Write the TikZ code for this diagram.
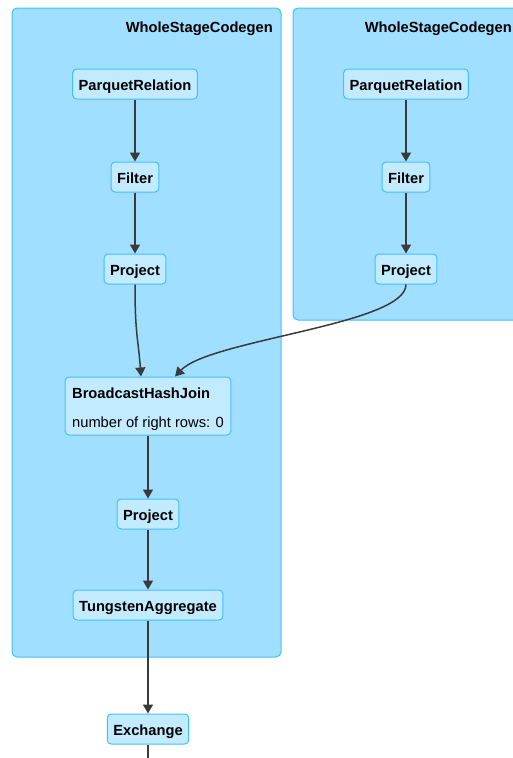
\documentclass[tikz,border=0pt]{standalone}
\usepackage{fontspec}
\setmainfont{Liberation Sans}
\usetikzlibrary{arrows.meta,calc}
\definecolor{clusterfill}{HTML}{A0DFFF}
\definecolor{clusterline}{HTML}{3EC0FF}
\definecolor{opfill}{HTML}{C3EBFF}
\definecolor{opline}{HTML}{3EC0FF}
\definecolor{edgecol}{HTML}{3A3A3A}
\begin{document}
\begin{tikzpicture}[x=1pt,y=-1pt,
  cluster/.style={draw=clusterline, fill=clusterfill, line width=1pt, rounded corners=5pt},
  cltitle/.style={anchor=base east, font=\fontsize{14.7}{17}\selectfont\bfseries, inner sep=0pt},
  op/.style={draw=opline, fill=opfill, line width=1pt, rounded corners=4pt,
    font=\fontsize{14.7}{17}\selectfont\bfseries, inner xsep=6pt, minimum height=30pt,
    text height=13pt, text depth=0.5pt},
  flowline/.style={draw=edgecol, line width=1.5pt},
  flow/.style={flowline, -{Triangle[length=9pt,width=10pt]}}
]
\useasboundingbox (0,0) rectangle (513,758);
\begin{scope}
\clip (0,0) rectangle (513,758);

% stage clusters
\draw[cluster] (12,8) rectangle (281,657);
\node[cltitle] (t1) at (273,32) {WholeStageCodegen};
\draw[cluster] (293,8) rectangle (530,320);
\node[cltitle] (t2) at (512,32) {WholeStageCodegen};

% left stage operators
\node[op] (pr1) at (135,84) {ParquetRelation};
\node[op] (f1) at (135,177) {Filter};
\node[op] (p1) at (135,269) {Project};
\node[op, font=\fontsize{14.7}{29}\selectfont, align=left, inner xsep=7pt,
  minimum height=58pt, text height=42pt, text depth=0pt] (bhj) at (148,406)
  {\textbf{BroadcastHashJoin}\\number of right rows: 0};
\node[op] (p3) at (148,514) {Project};
\node[op] (ta) at (148,605) {TungstenAggregate};
\node[op] (ex) at (148,729) {Exchange};

% right stage operators
\node[op] (pr2) at (406,84) {ParquetRelation};
\node[op] (f2) at (406,177) {Filter};
\node[op] (p2) at (406,269) {Project};

% edges
\draw[flow] (pr1) -- (f1);
\draw[flow] (f1) -- (p1);
\draw[flow] (pr2) -- (f2);
\draw[flow] (f2) -- (p2);
\draw[flow] (p1.south) .. controls +(0,50) and +(-3,-40) .. ($(bhj.north)+(-7,0)$);
\draw[flow] (p2.south) .. controls +(0,40) and +(35,-37) .. ($(bhj.north)+(27,0)$);
\draw[flow] (bhj) -- (p3);
\draw[flow] (p3) -- (ta);
\draw[flow] (ta) -- (ex);
\coordinate (below) at (148,775);
\draw[flowline] (ex) -- (below);
\end{scope}
\end{tikzpicture}
\end{document}
